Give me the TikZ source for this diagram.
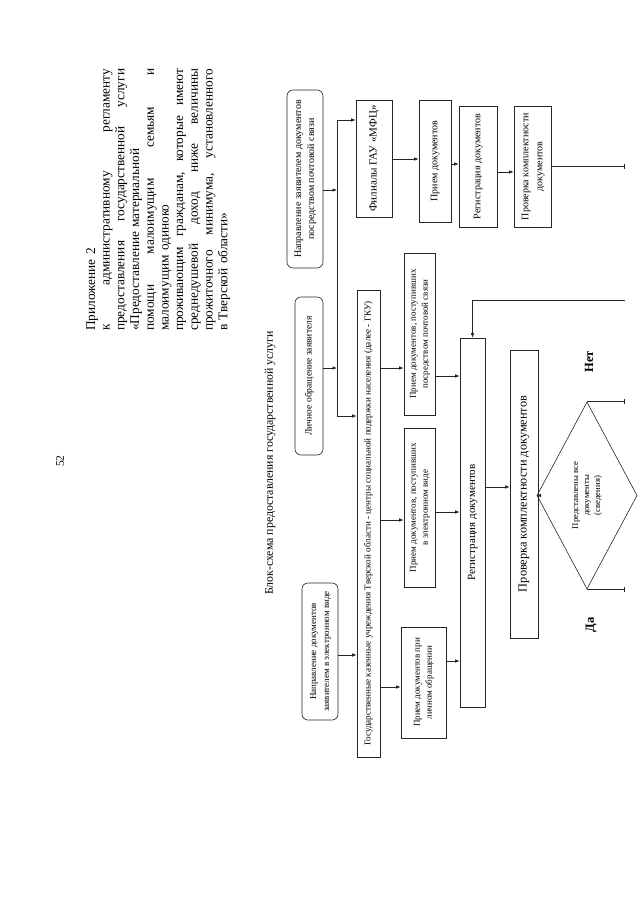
\documentclass[tikz,border=0pt]{standalone}
\usepackage{fontspec}
\setmainfont{Liberation Serif}
\usetikzlibrary{arrows.meta,shapes.geometric}
\newcommand\vtx[3]{\rotatebox{90}{\fontsize{#1}{#2}\selectfont\begin{tabular}{@{}c@{}}#3\end{tabular}}}
\newcommand\jline[1]{\makebox[262pt][s]{#1}}
\begin{document}
\begin{tikzpicture}[x=1pt,y=-1pt,
  ln/.style={draw=black!85,line width=0.6pt},
  rbox/.style={ln,rounded corners=6pt,inner sep=0pt},
  sbox/.style={ln,inner sep=0pt},
  arr/.style={ln,-{Latex[length=4.5pt,width=3.5pt]}},
  endln/.style={ln,-{Bar[width=5pt]}},
  lbl/.style={rotate=90,inner sep=0pt,font=\bfseries\fontsize{12.5}{14}\selectfont}]
\useasboundingbox (0,0) rectangle (640,905);
\fill[white] (0,0) rectangle (640,905);
% page number
\node[rotate=90,inner sep=0pt,font=\fontsize{11.5}{13}\selectfont] (pg) at (60,461) {52};
% appendix text
\node[rotate=90,anchor=north west,inner sep=0pt,text width=262pt,align=left,
  font=\fontsize{13.3}{14.7}\selectfont] (app) at (86,331) {Приложение 2\\
\jline{к\hfill административному\hfill регламенту}\\
\jline{предоставления\hfill государственной\hfill услуги}\\
«Предоставление материальной\\
\jline{помощи\hfill малоимущим\hfill семьям\hfill и}\\
малоимущим одиноко\\
\jline{проживающим\hfill гражданам,\hfill которые\hfill имеют}\\
\jline{среднедушевой\hfill доход\hfill ниже\hfill величины}\\
\jline{прожиточного\hfill минимума,\hfill установленного}\\
в Тверской области»};
% title
\node[rotate=90,inner sep=0pt,font=\fontsize{11.8}{13}\selectfont] (title) at (270,463) {Блок-схема предоставления государственной услуги};
% boxes
\node[rbox,minimum width=36pt,minimum height=178pt] (R1) at (305,179) {\vtx{10}{13}{Направление заявителем документов\\посредством почтовой связи}};
\node[rbox,minimum width=28pt,minimum height=158pt] (R2) at (309,376) {\vtx{9.5}{13}{Личное обращение заявителя}};
\node[rbox,minimum width=36pt,minimum height=137pt] (R3) at (320,651.5) {\vtx{9}{13}{Направление документов\\заявителем в электронном виде}};
\node[sbox,minimum width=23pt,minimum height=467pt] (G) at (368.5,523.5) {\vtx{9.1}{10}{Государственные казенные учреждения Тверской области - центры социальной подержки населения (далее - ГКУ)}};
\node[sbox,minimum width=36pt,minimum height=117pt] (F) at (374,158.5) {\vtx{11}{13}{Филиалы ГАУ «МФЦ»}};
\node[sbox,minimum width=32pt,minimum height=122pt] (P) at (435,161) {\vtx{10}{12}{Прием документов}};
\node[sbox,minimum width=38pt,minimum height=121pt] (Rs) at (478,166.5) {\vtx{10}{12}{Регистрация документов}};
\node[sbox,minimum width=37pt,minimum height=121pt] (Ps) at (532.5,166.5) {\vtx{10}{14}{Проверка комплектности\\документов}};
\node[sbox,minimum width=31pt,minimum height=162pt] (Pp) at (419.5,334) {\vtx{9}{12}{Прием документов, поступивших\\посредством почтовой связи}};
\node[sbox,minimum width=31pt,minimum height=159pt] (Pe) at (419.5,507.5) {\vtx{9}{12}{Прием документов, поступивших\\в электронном виде}};
\node[sbox,minimum width=45pt,minimum height=111pt] (Pl) at (423.5,682.5) {\vtx{9}{12}{Прием документов при\\личном обращении}};
\node[sbox,minimum width=25pt,minimum height=369pt] (RegB) at (472.5,522.5) {\vtx{11}{13}{Регистрация документов}};
\node[sbox,minimum width=28pt,minimum height=288pt] (ProvB) at (524,494) {\vtx{12.3}{13}{Проверка комплектности документов}};
\node[ln,diamond,inner sep=0pt,minimum width=72pt,minimum height=187pt] (D) at (587,495.5) {\vtx{8.7}{11}{Представлены все\\документы\\(сведения)}};
\node[lbl] (no) at (589,362) {Нет};
\node[lbl] (yes) at (591,625) {Да};
% helper coordinates
\coordinate (vt) at (337,120);
\coordinate (vb) at (337,416);
\coordinate (ex) at (625,0);
\coordinate (fb) at (625,300);
\coordinate (yR1) at (0,190);
\coordinate (yR2) at (0,368);
\coordinate (yR3) at (0,655);
\coordinate (yGp) at (0,368);
\coordinate (yPp) at (0,376);
\coordinate (yGe) at (0,520);
\coordinate (yPe) at (0,512);
\coordinate (yGl) at (0,687);
\coordinate (yPl) at (0,661);
\coordinate (yRP) at (0,487);
\coordinate (yF) at (0,159);
\coordinate (yP) at (0,164);
\coordinate (yRs) at (0,172);
\coordinate (yPs) at (0,166);
% connectors
\draw[ln] (vt) -- (vb);
\draw[arr] (vt) -- (vt -| F.west);
\draw[arr] (vb) -- (vb -| G.west);
\draw[arr] (R1.east |- yR1) -- (vt |- yR1);
\draw[arr] (R2.east |- yR2) -- (vt |- yR2);
\draw[arr] (R3.east |- yR3) -- (G.west |- yR3);
\draw[arr] (G.east |- yGp) -- (Pp.west |- yGp);
\draw[arr] (Pp.east |- yPp) -- (RegB.west |- yPp);
\draw[arr] (G.east |- yGe) -- (Pe.west |- yGe);
\draw[arr] (Pe.east |- yPe) -- (RegB.west |- yPe);
\draw[arr] (G.east |- yGl) -- (Pl.west |- yGl);
\draw[arr] (Pl.east |- yPl) -- (RegB.west |- yPl);
\draw[arr] (RegB.east |- yRP) -- (ProvB.west |- yRP);
\draw[arr] (ProvB.east |- D.west) -- (D.west);
\draw[arr] (F.east |- yF) -- (P.west |- yF);
\draw[arr] (P.east |- yP) -- (Rs.west |- yP);
\draw[arr] (Rs.east |- yRs) -- (Ps.west |- yRs);
\draw[endln] (Ps.east |- yPs) -- (ex |- yPs);
\draw[endln] (D.north) -- (ex |- D.north);
\draw[endln] (D.south) -- (ex |- D.south);
\draw[arr] (fb) -| (RegB.north);
\end{tikzpicture}
\end{document}
